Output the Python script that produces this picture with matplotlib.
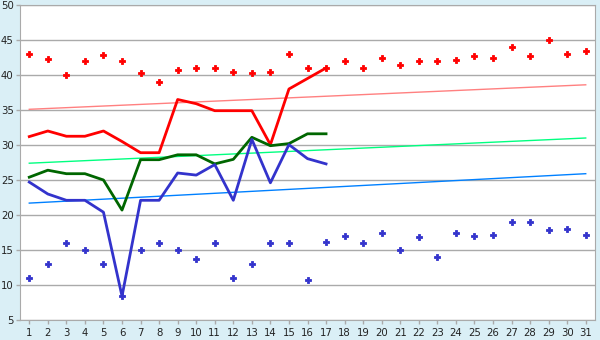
import matplotlib
matplotlib.use("Agg")
import matplotlib.pyplot as plt
import numpy as np

days = list(range(1, 32))

# scattered daily points
high_pts = [43, 42.3, 40, 42, 42.8, 42, 40.3, 39, 40.7, 41,
            41, 40.5, 40.3, 40.5, 43, 41, 41, 42, 41, 42.4,
            41.5, 42, 42, 42.2, 42.7, 42.5, 44, 42.7, 45, 43, 43.5]
low_pts = [11, 13, 16, 15, 13, 8.4, 15, 16, 15, 13.7,
           16, 11, 13, 16, 16, 10.7, 16.2, 17, 16, 17.4,
           15, 16.8, 14, 17.4, 17, 17.2, 19, 19, 17.8, 18, 17.2]

# lines for days 1..17
line_days = list(range(1, 18))
red_line = [31.2, 32, 31.25, 31.25, 32, 30.5, 28.9, 28.9, 36.5, 35.9,
            34.9, 34.9, 34.9, 30.05, 38, 39.5, 41]
green_line = [25.4, 26.4, 25.9, 25.9, 25, 20.7, 27.9, 27.9, 28.6, 28.6,
              27.3, 27.95, 31.1, 29.9, 30.2, 31.6, 31.6]
blue_line = [24.7, 23, 22.1, 22.1, 20.4, 8.4, 22.1, 22.1, 26, 25.7,
             27.2, 22.1, 30.8, 24.6, 30.05, 28.05, 27.3]

# trend lines (value at day 1, value at day 31)
trend_ends = [1, 31]
red_trend = [35.1, 38.6]
green_trend = [27.4, 31.0]
blue_trend = [21.7, 25.9]

fig = plt.figure(figsize=(6, 3.4), dpi=100)
fig.patch.set_facecolor('#daeff6')
ax = fig.add_axes([20/600, 20/340, 575/600, 315/340])
ax.set_facecolor('white')

ax.set_xlim(0.5, 31.5)
ax.set_ylim(5, 50)
ax.set_yticks(range(5, 51, 5))
ax.set_xticks(days)
ax.yaxis.grid(True, color='#aaaaaa', linewidth=1)
ax.set_axisbelow(True)

for s in ax.spines.values():
    s.set_color('#aaaaaa')
ax.tick_params(axis='both', colors='#aaaaaa', labelcolor='#222222',
               labelsize=7.3, length=3, width=1)
ax.tick_params(axis='x', pad=3)
ax.tick_params(axis='y', pad=1.5)

ax.plot(trend_ends, red_trend, color='#ff8080', lw=1)
ax.plot(trend_ends, green_trend, color='#00ff80', lw=1)
ax.plot(trend_ends, blue_trend, color='#0080ff', lw=1)

ax.plot(line_days, red_line, color='#ff0000', lw=2)
ax.plot(line_days, green_line, color='#006600', lw=2)
ax.plot(line_days, blue_line, color='#3333cc', lw=2)

ax.plot(days, high_pts, ls='none', marker='P', ms=5, color='#ff0000', mew=0.6)
ax.plot(days, low_pts, ls='none', marker='P', ms=5, color='#3333cc', mew=0.6)

fig.savefig('out.png', dpi=100, facecolor=fig.get_facecolor())
